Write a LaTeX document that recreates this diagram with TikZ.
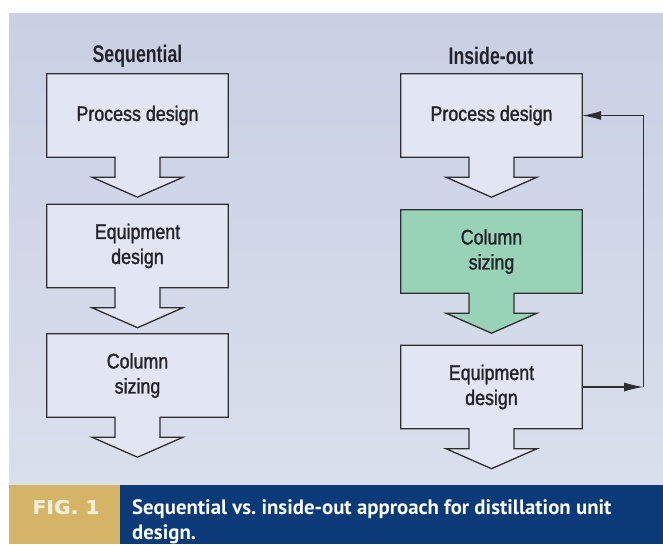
\documentclass[tikz,border=0pt]{standalone}
\usepackage{fontspec}
\usetikzlibrary{arrows.meta,calc}
\newfontfamily\boxfont[FakeStretch=0.85,FakeBold=1.3]{Liberation Sans}
\newfontfamily\titlefont[FakeStretch=0.74]{Liberation Sans}
\newfontfamily\capfont[FakeStretch=1.0]{PT Sans}
\newfontfamily\figfont[FakeStretch=1.07,FakeBold=0.8]{DejaVu Sans}
\definecolor{panelTop}{HTML}{C9D0E4}
\definecolor{panelBot}{HTML}{DADFEC}
\definecolor{boxfill}{HTML}{E2E6F3}
\definecolor{greenfill}{HTML}{99D3B7}
\definecolor{goldbar}{HTML}{D5B467}
\definecolor{navybar}{HTML}{0B3A78}
\definecolor{outlinec}{HTML}{2E2E2E}
\definecolor{textdark}{HTML}{222228}
\definecolor{figtext}{HTML}{F6EED8}
\pgfdeclarelayer{bg}
\pgfsetlayers{bg,main}
\tikzset{
  flowbox/.style={rectangle, minimum width=181pt, minimum height=83pt, inner sep=0pt,
    align=center, text=textdark, font=\boxfont\fontsize{21}{25}\selectfont},
  shapeline/.style={draw=outlinec, line width=1.3pt, line join=miter},
  coltitle/.style={text=textdark, font=\titlefont\bfseries\fontsize{24}{28}\selectfont},
  fbline/.style={draw=outlinec, line width=1.1pt, -{Latex[length=19pt,width=9pt]}},
  figlabel/.style={text=figtext, font=\figfont\bfseries\fontsize{19}{23}\selectfont},
  captext/.style={text=white, align=left, inner sep=0pt, font=\capfont\bfseries\frenchspacing\fontsize{20.8}{25.5}\selectfont}
}
\newcommand{\downbox}[2]{%
  \filldraw[shapeline, fill=#2] (#1.north west) -- (#1.north east) -- (#1.south east)
    -- ($(#1.south)+(22.5,0)$) -- ($(#1.south)+(22.5,20)$) -- ($(#1.south)+(45.5,20)$)
    -- ($(#1.south)+(0,40)$) -- ($(#1.south)+(-45.5,20)$) -- ($(#1.south)+(-22.5,20)$)
    -- ($(#1.south)+(-22.5,0)$) -- (#1.south west) -- cycle;}
\begin{document}
\begin{tikzpicture}[x=1pt,y=-1pt]
\useasboundingbox (0,0) rectangle (663,544);
\begin{pgfonlayer}{bg}
\fill[white] (0,0) rectangle (663,544);
\shade[top color=panelTop, bottom color=panelBot] (9,13) rectangle (663,485);
\fill[goldbar] (9,485) rectangle (120,544);
\fill[navybar] (120,485) rectangle (663,544);
\end{pgfonlayer}

\node[coltitle] (t1) at (137.5,56) {Sequential};
\node[coltitle] (t2) at (491,56) {Inside-out};

\node[flowbox] (L1) at (137.5,115.5) {Process design};
\node[flowbox] (L2) at (137.5,246) {Equipment\\design};
\node[flowbox] (L3) at (137.5,375.5) {Column\\sizing};
\node[flowbox] (R1) at (491.5,115.5) {Process design};
\node[flowbox] (R2) at (491.5,251.5) {Column\\sizing};
\node[flowbox] (R3) at (491.5,387) {Equipment\\design};

\begin{pgfonlayer}{bg}
\downbox{L1}{boxfill}
\downbox{L2}{boxfill}
\downbox{L3}{boxfill}
\downbox{R1}{boxfill}
\downbox{R2}{greenfill}
\downbox{R3}{boxfill}
\end{pgfonlayer}

\coordinate (fb) at ($(R3.east)+(61,0)$);
\draw[fbline] (R3.east) -- (fb);
\draw[fbline] (fb) |- (R1.east);

\node[figlabel] (fig) at (66,507) {FIG. 1};
\node[captext, anchor=north west] (cap) at (132,499) {Sequential vs. inside-out approach for distillation unit\\design.};
\end{tikzpicture}
\end{document}
